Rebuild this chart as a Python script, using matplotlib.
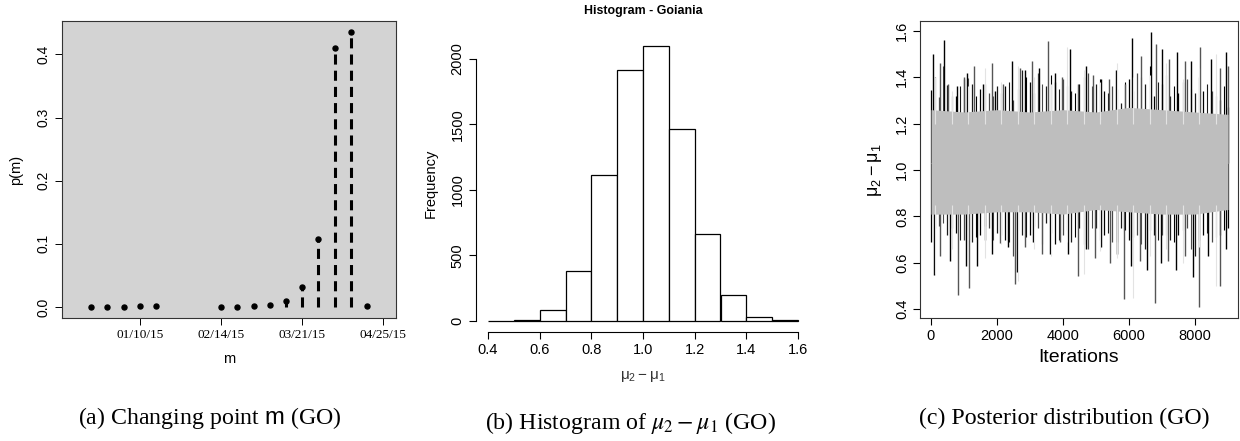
import matplotlib
matplotlib.use('Agg')
import matplotlib.pyplot as plt
import matplotlib.dates as mdates
import numpy as np

plt.rcParams['font.family'] = ['Liberation Sans', 'DejaVu Sans']
plt.rcParams['mathtext.fontset'] = 'custom'
plt.rcParams['mathtext.rm'] = 'Liberation Sans'
plt.rcParams['mathtext.it'] = 'Liberation Sans:italic'
plt.rcParams['mathtext.sf'] = 'Liberation Sans'

# (a) posterior of the changing point m
change_dates = ['2014-12-20', '2014-12-27', '2015-01-03', '2015-01-10', '2015-01-17',
                '2015-02-14', '2015-02-21', '2015-02-28', '2015-03-07', '2015-03-14',
                '2015-03-21', '2015-03-28', '2015-04-04', '2015-04-11', '2015-04-18']
p_m = [0.0, 0.0, 0.0, 0.0015, 0.0015, 0.0, 0.0, 0.002, 0.003, 0.0095,
       0.031, 0.107, 0.4105, 0.4354, 0.0016]
date_ticks = ['2015-01-10', '2015-02-14', '2015-03-21', '2015-04-25']
date_labels = ['01/10/15', '02/14/15', '03/21/15', '04/25/15']

# (b) histogram of mu2 - mu1
bin_edges = [0.4, 0.5, 0.6, 0.7, 0.8, 0.9, 1.0, 1.1, 1.2, 1.3, 1.4, 1.5, 1.6]
counts = [0, 5, 84, 383, 1117, 1919, 2102, 1462, 665, 195, 30, 5]

# (c) trace of mu2 - mu1 (extremes)
peak_up_it = [50, 270, 390, 525, 777, 1010, 1100, 1312, 1584, 1836, 1937, 2190, 2442,
              2694, 2846, 3047, 3269, 3551, 3754, 3955, 4208, 4460, 4712, 4914, 5166,
              5398, 5620, 5893, 6105, 6377, 6660, 6832, 7003, 7215, 7457, 7689, 7891,
              8143, 8496, 8749, 8950, 9000]
peak_up = [1.50, 1.46, 1.56, 1.37, 1.36, 1.40, 1.42, 1.45, 1.37, 1.46, 1.34, 1.37, 1.47,
           1.44, 1.43, 1.47, 1.44, 1.557, 1.42, 1.40, 1.52, 1.37, 1.45, 1.41, 1.39,
           1.39, 1.43, 1.37, 1.57, 1.49, 1.595, 1.545, 1.52, 1.48, 1.51, 1.47, 1.47,
           1.53, 1.48, 1.44, 1.51, 1.45]
peak_lo_it = [90, 270, 575, 827, 1060, 1160, 1403, 1635, 1836, 2089, 2341, 2543, 2593,
              2846, 3098, 3350, 3602, 3905, 4157, 4460, 4712, 4965, 5166, 5419, 5651,
              5852, 6074, 6326, 6548, 6800, 6982, 7184, 7436, 7689, 7941, 8113, 8395,
              8769, 8950]
peak_lo = [0.548, 0.63, 0.61, 0.46, 0.585, 0.49, 0.585, 0.70, 0.64, 0.685, 0.67, 0.51, 0.56,
           0.67, 0.69, 0.64, 0.64, 0.69, 0.64, 0.545, 0.66, 0.62, 0.67, 0.60, 0.64,
           0.443, 0.585, 0.61, 0.57, 0.426, 0.60, 0.61, 0.57, 0.63, 0.54, 0.41, 0.63,
           0.50, 0.66]
fringe_it = [0, 250, 500, 750, 1000, 1250, 1500, 1750, 2000, 2250, 2500, 2750, 3000,
             3250, 3500, 3750, 4000, 4250, 4500, 4750, 5000, 5250, 5500, 5750, 6000,
             6250, 6500, 6750, 7000, 7250, 7500, 7750, 8000, 8250, 8500, 8750, 9000]
fringe_up = [1.345, 1.316, 1.366, 1.32, 1.39, 1.37, 1.35, 1.33, 1.36, 1.36, 1.30, 1.43, 1.38,
             1.42, 1.36, 1.38, 1.39, 1.34, 1.37, 1.42, 1.37, 1.34, 1.36, 1.29, 1.39,
             1.42, 1.37, 1.32, 1.37, 1.32, 1.33, 1.39, 1.33, 1.34, 1.34, 1.30, 1.27]
fringe_lo = [0.69, 0.76, 0.72, 0.73, 0.70, 0.69, 0.72, 0.75, 0.73, 0.70, 0.63, 0.72, 0.72,
             0.75, 0.77, 0.68, 0.72, 0.69, 0.75, 0.66, 0.75, 0.72, 0.69, 0.75, 0.70,
             0.72, 0.66, 0.72, 0.72, 0.70, 0.72, 0.75, 0.63, 0.72, 0.69, 0.72, 0.75]
fringe2_it = [125, 375, 625, 875, 1125, 1375, 1625, 1875, 2125, 2375, 2625, 2875,
              3125, 3375, 3625, 3875, 4125, 4375, 4625, 4875, 5125, 5375, 5625, 5875,
              6125, 6375, 6625, 6875, 7125, 7375, 7625, 7875, 8125, 8375, 8625, 8875]
fringe2_up = [1.40, 1.45, 1.32, 1.36, 1.395, 1.32, 1.37, 1.32, 1.33, 1.38, 1.35, 1.40,
              1.33, 1.37, 1.41, 1.35, 1.36, 1.33, 1.40, 1.36, 1.39, 1.33, 1.35, 1.38,
              1.34, 1.40, 1.45, 1.38, 1.41, 1.36, 1.38, 1.35, 1.40, 1.37, 1.32, 1.36]
fringe2_lo = [0.75, 0.77, 0.75, 0.70, 0.74, 0.71, 0.76, 0.70, 0.72, 0.69, 0.74, 0.71,
              0.76, 0.68, 0.73, 0.70, 0.74, 0.71, 0.68, 0.75, 0.70, 0.73, 0.69, 0.74,
              0.71, 0.68, 0.74, 0.70, 0.72, 0.69, 0.74, 0.66, 0.70, 0.73, 0.71, 0.74]
light_it = [125, 625, 1125, 1625, 2125, 2625, 3125, 3625, 4125, 4625, 5125, 5625, 6125,
            6625, 7125, 7625, 8125, 8625]
light_up = [1.40, 1.34, 1.36, 1.44, 1.38, 1.45, 1.40, 1.37, 1.53, 1.43, 1.38, 1.46, 1.40,
            1.41, 1.46, 1.39, 1.44, 1.50]
light_lo = [0.55, 0.66, 0.70, 0.62, 0.68, 0.52, 0.66, 0.63, 0.69, 0.55, 0.65, 0.62, 0.45,
            0.63, 0.66, 0.60, 0.67, 0.50]
band_it = [0, 1000, 2000, 3000, 4000, 5000, 6000, 7000, 8000, 9000]
band_top = [1.26, 1.25, 1.26, 1.25, 1.26, 1.25, 1.27, 1.26, 1.25, 1.24]
band_bot = [0.81, 0.81, 0.82, 0.82, 0.81, 0.83, 0.82, 0.81, 0.81, 0.83]

W, H = 1240, 441
fig = plt.figure(figsize=(W / 100, H / 100), dpi=100)


def box(l, t, r, b):
    return [l / W, 1 - b / H, (r - l) / W, (b - t) / H]


# ---- panel (a)
ax1 = fig.add_axes(box(62, 21, 396, 318))
ax1.set_facecolor('#d3d3d3')
xd = mdates.date2num(np.array(change_dates, dtype='datetime64[D]'))
ax1.vlines(xd, 0, p_m, colors='black', linewidth=2.2, linestyles=(0, (3.3, 2.0)))
ax1.plot(xd, p_m, 'o', color='black', markersize=3.6)
ax1.set_xlim(mdates.date2num(np.datetime64('2014-12-07T10')),
             mdates.date2num(np.datetime64('2015-04-30T10')))
ax1.set_ylim(-0.0174, 0.4528)
ax1.set_xticks(mdates.date2num(np.array(date_ticks, dtype='datetime64[D]')))
ax1.set_xticklabels(date_labels, family='Liberation Serif', fontsize=9.5)
ax1.set_yticks([0.0, 0.1, 0.2, 0.3, 0.4])
ax1.set_yticklabels(['0.0', '0.1', '0.2', '0.3', '0.4'], rotation=90, va='center', fontsize=10)
ax1.tick_params(length=5, width=0.7, pad=3)
for s in ax1.spines.values():
    s.set_linewidth(0.8)
    s.set_color('#333333')
fig.text(229 / W, 1 - 359 / H, 'm', ha='center', va='center', fontsize=10.5)
fig.text(16 / W, 1 - 170 / H, 'p(m)', ha='center', va='center', rotation=90, fontsize=10.5)

# ---- panel (b)
ax2 = fig.add_axes(box(475.6, 34.6, 810.4, 332))
ax2.bar(bin_edges[:-1], counts, width=0.1, align='edge', facecolor='white',
        edgecolor='black', linewidth=0.9)
ax2.set_xlim(0.352, 1.648)
ax2.set_ylim(-84, 2186)
for side in ['top', 'right']:
    ax2.spines[side].set_visible(False)
ax2.spines['bottom'].set_bounds(0.4, 1.6)
ax2.spines['left'].set_bounds(0, 2000)
ax2.set_xticks([0.4, 0.6, 0.8, 1.0, 1.2, 1.4, 1.6])
ax2.set_xticklabels(['0.4', '0.6', '0.8', '1.0', '1.2', '1.4', '1.6'], fontsize=10.5)
ax2.set_yticks([0, 500, 1000, 1500, 2000])
ax2.set_yticklabels(['0', '500', '1000', '1500', '2000'], rotation=90, va='center', fontsize=10.5)
ax2.tick_params(length=5, width=0.8, pad=3)
fig.text(643 / W, 1 - 11 / H, 'Histogram - Goiania', ha='center', va='center',
         fontsize=8.9, fontweight='bold')
fig.text(431 / W, 1 - 183 / H, 'Frequency', ha='center', va='center', rotation=90, fontsize=10.5)
fig.text(643 / W, 1 - 377 / H, r'$\mathrm{\mu_2 - \mu_1}$', ha='center', va='center',
         fontsize=11, color='#333333')

# ---- panel (c)
ax3 = fig.add_axes(box(920, 21, 1238, 318))
dark = ['black', '#4a4a4a', '#1a1a1a']
ax3.vlines(fringe_it, 1.03, fringe_up, colors=dark, linewidth=0.9)
ax3.vlines(fringe_it, fringe_lo, 1.03, colors=dark, linewidth=0.9)
ax3.vlines(fringe2_it, 1.03, fringe2_up, colors=dark[::-1], linewidth=0.8)
ax3.vlines(fringe2_it, fringe2_lo, 1.03, colors=dark[::-1], linewidth=0.8)
ax3.vlines(peak_up_it, 1.03, peak_up, colors=['black', '#555555'], linewidth=1.0)
ax3.vlines(peak_lo_it, peak_lo, 1.03, colors=['black', '#555555'], linewidth=1.0)
ax3.fill_between(band_it, band_bot, band_top, color='#bebebe', linewidth=0, zorder=2)
ax3.vlines(light_it, 1.2, light_up, colors='#e3e3e3', linewidth=0.8, zorder=3)
ax3.vlines(light_it, light_lo, 0.85, colors='#e3e3e3', linewidth=0.8, zorder=3)
ax3.set_xlim(-333, 9303)
ax3.set_ylim(0.3625, 1.642)
ax3.set_xticks([0, 2000, 4000, 6000, 8000])
ax3.set_xticklabels(['0', '2000', '4000', '6000', '8000'], fontsize=10.5)
ax3.set_yticks([0.4, 0.6, 0.8, 1.0, 1.2, 1.4, 1.6])
ax3.set_yticklabels(['0.4', '0.6', '0.8', '1.0', '1.2', '1.4', '1.6'], rotation=90,
                    va='center', fontsize=10.5)
ax3.tick_params(length=5, width=0.8, pad=3)
for s in ax3.spines.values():
    s.set_linewidth(0.8)
    s.set_color('#333333')
fig.text(1079 / W, 1 - 357 / H, 'Iterations', ha='center', va='center', fontsize=14)
fig.text(875 / W, 1 - 170 / H, r'$\mathrm{\mu_2 - \mu_1}$', ha='center', va='center',
         rotation=90, fontsize=13)

# ---- captions
cap = dict(ha='center', va='center', fontsize=17.2, family='Liberation Serif')
fig.text(210 / W, 1 - 418 / H, r'(a) Changing point $\mathrm{m}$ (GO)',
         math_fontfamily='custom', **cap)
fig.text(630 / W, 1 - 423 / H, r'(b) Histogram of $\mu_2 - \mu_1$ (GO)',
         math_fontfamily='stix', **cap)
fig.text(1064 / W, 1 - 418 / H, '(c) Posterior distribution (GO)', **cap)

fig.savefig('out.png', dpi=100)
